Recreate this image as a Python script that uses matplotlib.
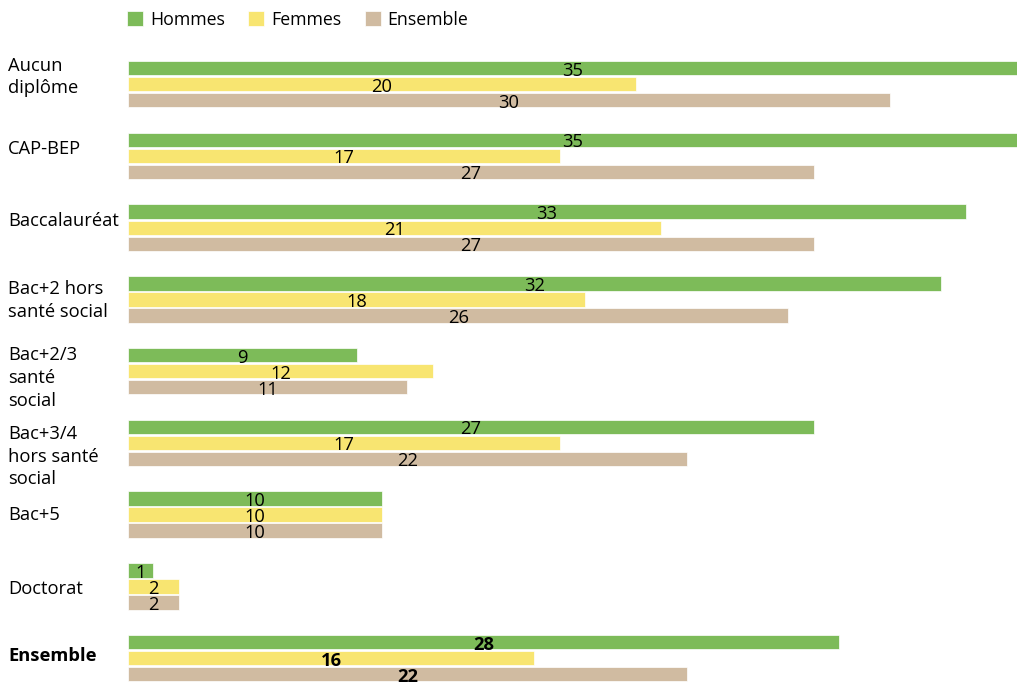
import matplotlib
matplotlib.use("Agg")
import matplotlib.pyplot as plt
import numpy as np

# Data
categories = ["Aucun\ndiplôme", "CAP-BEP", "Baccalauréat", "Bac+2 hors\nsanté social",
              "Bac+2/3\nsanté\nsocial", "Bac+3/4\nhors santé\nsocial", "Bac+5",
              "Doctorat", "Ensemble"]
hommes = [35, 35, 33, 32, 9, 27, 10, 1, 28]
femmes = [20, 17, 21, 18, 12, 17, 10, 2, 16]
ensemble = [30, 27, 27, 26, 11, 22, 10, 2, 22]
series_names = ["Hommes", "Femmes", "Ensemble"]

# small vertical nudges of the category labels (in group units)
label_shift = [-0.10, -0.09, -0.09, 0.02, 0.09, 0.19, 0.0, 0.04, -0.03]

colors = ["#7DBB59", "#F8E571", "#D0BBA1"]
plt.rcParams['font.family'] = ['Open Sans', 'DejaVu Sans']

fig = plt.figure(figsize=(10.17, 6.83), dpi=100)
ax = fig.add_axes([128 / 1017, 0.0, 1 - 128 / 1017, 1 - 61 / 683])

y = np.arange(len(categories))
step = 0.223
height = 0.2
series = [hommes, femmes, ensemble]
fs = 13.2

for k, (vals, name, col) in enumerate(zip(series, series_names, colors)):
    pos = y + (k - 1) * step
    ax.barh(pos, vals, height=height, color=col, label=name, edgecolor="white", linewidth=0.5)
    for i, (p, v) in enumerate(zip(pos, vals)):
        ax.text(v / 2, p + 0.035, str(v), ha="center", va="center", fontsize=fs,
                color="black", fontweight="bold" if i == len(categories) - 1 else "normal")

ax.set_xlim(0, 35)
ax.set_ylim(8.346, -0.323)
ax.axis("off")

for i, (cat, sh) in enumerate(zip(categories, label_shift)):
    ax.text(-120 / 25.4, y[i] + sh, cat, ha="left", va="center", fontsize=fs,
            linespacing=1.35, fontweight="bold" if i == len(categories) - 1 else "normal",
            clip_on=False)

leg = ax.legend(ncol=3, loc="upper left", bbox_to_anchor=(-0.009, 1.092), frameon=False,
                fontsize=12.8, handlelength=0.9, handleheight=0.9, handletextpad=0.4,
                columnspacing=1.3, borderaxespad=0)

fig.savefig("out.png", dpi=100)
